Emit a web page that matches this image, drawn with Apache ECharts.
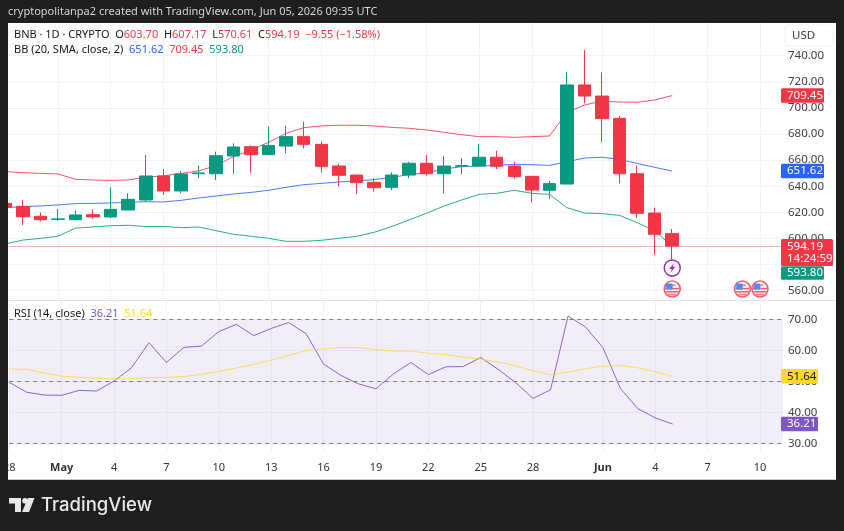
<!DOCTYPE html>
<html>
<head>
<meta charset="utf-8">
<style>html,body{margin:0;padding:0;background:#1e1e1e}#chart{width:844px;height:531px}</style>
<script src="https://cdn.jsdelivr.net/npm/echarts@6/dist/echarts.min.js"></script>
</head>
<body>
<div id="chart"></div>
<script>
// Daily BNB/USD candles with Bollinger Bands and an RSI pane.
const dates = [
  '2026-04-28','2026-04-29','2026-04-30','2026-05-01','2026-05-02','2026-05-03','2026-05-04','2026-05-05',
  '2026-05-06','2026-05-07','2026-05-08','2026-05-09','2026-05-10','2026-05-11','2026-05-12','2026-05-13',
  '2026-05-14','2026-05-15','2026-05-16','2026-05-17','2026-05-18','2026-05-19','2026-05-20','2026-05-21',
  '2026-05-22','2026-05-23','2026-05-24','2026-05-25','2026-05-26','2026-05-27','2026-05-28','2026-05-29',
  '2026-05-30','2026-05-31','2026-06-01','2026-06-02','2026-06-03','2026-06-04','2026-06-05'
];
const opens = [
  626.9,624.6,617.0,614.6,614.4,618.2,616.5,621.8,629.5,647.9,636.4,649.6,649.6,663.2,670.3,664.2,
  670.8,678.0,672.1,655.5,648.6,643.0,639.2,648.6,657.6,649.6,655.3,655.5,662.2,655.5,647.6,636.9,
  641.7,717.6,709.1,692.0,649.6,619.5,603.7
];
const closes = [
  623.9,616.7,614.4,615.0,618.0,616.5,622.3,630.0,647.9,636.4,649.4,650.2,663.4,670.1,664.2,671.3,
  678.0,672.1,655.3,648.4,642.8,638.9,648.6,657.6,649.6,655.5,655.8,662.2,655.3,647.4,637.1,642.0,
  717.6,709.1,691.8,649.6,619.3,603.2,594.19
];
const lows = [
  622.5,610.3,613.1,613.4,613.7,615.2,615.2,621.8,628.2,633.3,634.8,646.1,644.8,649.4,650.4,664.0,
  665.2,669.0,650.4,639.7,633.8,635.9,637.1,646.1,648.1,634.6,649.1,655.5,653.2,645.8,627.7,630.5,
  641.7,703.5,673.7,642.2,615.9,587.4,570.61
];
const highs = [
  628.5,629.5,620.0,622.6,621.3,622.3,639.2,634.6,663.9,653.2,651.7,655.8,666.5,672.9,671.3,685.6,
  686.4,689.5,674.2,657.0,648.6,646.1,650.7,658.8,664.0,663.2,661.4,672.4,667.3,658.8,647.6,644.0,
  727.5,744.4,727.3,693.8,656.0,623.6,607.17
];
const bbUpper = [
  651.2,650.4,649.9,649.4,645.3,644.8,644.5,644.8,647.1,647.9,649.9,651.7,655.8,662.7,667.8,673.7,
  680.5,684.9,686.2,686.7,686.7,686.2,685.1,684.4,683.1,681.3,679.5,678.0,678.0,677.5,678.0,678.5,
  696.4,702.2,705.3,704.5,704.3,706.1,709.45
];
const bbBasis = [
  623.6,624.4,624.9,625.7,626.7,626.9,627.2,627.7,628.2,628.0,629.2,631.0,632.5,634.1,635.3,636.9,
  639.2,641.2,642.2,643.3,644.0,645.1,646.8,648.9,650.4,653.2,655.0,655.5,656.0,656.8,656.5,656.0,
  658.8,661.6,662.2,660.6,657.5,654.5,651.62
];
const bbLower = [
  595.8,598.8,600.1,601.7,608.0,608.8,609.8,610.1,609.1,609.3,608.3,608.8,606.0,603.2,601.7,600.1,
  597.8,597.8,598.6,600.1,601.6,604.7,609.1,614.2,619.3,624.9,629.5,633.8,634.6,636.9,634.6,633.8,
  623.6,619.5,619.0,617.7,612.1,606.0,593.80
];
const rsi = [
  49.7,46.5,45.6,45.5,47.1,46.9,50.1,54.4,62.5,56.1,61.0,61.4,66.1,68.4,64.8,67.1,
  69.0,65.4,55.6,51.9,49.2,47.6,52.4,56.1,52.2,54.7,54.8,57.7,53.9,49.6,44.5,47.3,
  71.1,67.6,60.9,47.7,41.2,38.2,36.21
];
const rsiMa = [
  54.0,53.9,52.7,51.7,51.3,51.0,50.8,50.9,51.2,51.3,51.6,52.3,53.2,54.3,55.5,56.9,
  58.4,60.0,60.5,61.0,60.9,60.3,59.8,59.8,59.1,58.7,57.8,57.2,56.2,55.1,53.4,52.2,
  53.0,54.1,54.9,55.1,54.4,53.1,51.64
];
const dateTicks = ['2026-04-28','2026-05-01','2026-05-04','2026-05-07','2026-05-10','2026-05-13','2026-05-16',
  '2026-05-19','2026-05-22','2026-05-25','2026-05-28','2026-06-01','2026-06-04','2026-06-07','2026-06-10'];
const priceTicks = [560,580,600,620,640,660,680,700,720,740];
const priceLabels = [560,600,620,640,660,680,700,720,740];
const rsiTicks = [30,40,50,60,70];
const rsiLevels = [70,50,30];
const flagEvents = ['2026-06-05','2026-06-09','2026-06-10'];
const boltEvents = ['2026-06-05'];
const flagLevel = 561.3, boltLevel = 577.4;

const UP = '#089981', DOWN = '#f23645', BLUE = '#2962ff', PURPLE = '#7e57c2', YELLOW = '#fdd835';
const FONT = '"Noto Sans", "Open Sans", sans-serif';
const GRID_LINE = '#f2f3f6', PANEL_LINE = '#e0e3eb', TEXT = '#131722';

const day = s => { const [y, m, d] = s.split('-').map(Number); return Date.UTC(y, m - 1, d); };
const HOUR = 3600e3;
const xMin = day('2026-04-28');
const xMax = day('2026-06-11') + 7.5 * HOUR;
const MONTHS = ['Jan','Feb','Mar','Apr','May','Jun','Jul','Aug','Sep','Oct','Nov','Dec'];
const tickStamps = dateTicks.map(day);

function tickText(v) {
  const d = new Date(v);
  return d.getUTCDate() === 1 ? '{m|' + MONTHS[d.getUTCMonth()] + '}' : String(d.getUTCDate());
}
const pairs = arr => arr.map((v, i) => [day(dates[i]), v]);
const bandWidth = bbUpper.map((v, i) => v - bbLower[i]);

function xAxisFor(gridIndex, showLabels) {
  return {
    type: 'value', gridIndex, min: xMin, max: xMax,
    axisLine: { show: false },
    axisTick: { show: false, customValues: tickStamps },
    splitLine: { show: true, lineStyle: { color: GRID_LINE, width: 1 } },
    axisLabel: {
      show: showLabels, customValues: tickStamps, formatter: tickText, margin: 10,
      color: '#333', fontSize: 11, fontFamily: FONT, hideOverlap: false, showMinLabel: true,
      rich: { m: { fontWeight: 'bold', color: '#333', fontSize: 11, fontFamily: FONT } }
    }
  };
}
function yAxisFor(gridIndex, min, max, ticks, labels) {
  return {
    type: 'value', gridIndex, position: 'right', min, max,
    axisLine: { show: false },
    axisTick: { show: false, customValues: ticks },
    splitLine: { show: true, lineStyle: { color: GRID_LINE, width: 1 } },
    axisLabel: {
      customValues: labels, margin: 5, color: '#3a3e4a', fontSize: 11.5, fontFamily: FONT,
      showMinLabel: true, showMaxLabel: true, formatter: v => v.toFixed(2)
    }
  };
}

// Economic-calendar marker: red ring around a small stars-and-stripes badge.
function renderFlag(params, api) {
  const p = api.coord([api.value(0), api.value(1)]);
  const x = p[0], y = p[1];
  const stripe = (dy, w, c) => ({ type: 'rect', shape: { x: x - w / 2, y: y + dy, width: w, height: 1.6 }, style: { fill: c } });
  return { type: 'group', children: [
    { type: 'circle', shape: { cx: x, cy: y, r: 8 }, style: { fill: '#fff', stroke: '#f0606e', lineWidth: 1.6 } },
    stripe(-4.5, 7, '#f4818c'), stripe(-1.2, 14, '#f4606e'), stripe(2, 13, '#f4606e'), stripe(4.6, 8, '#f4818c'),
    { type: 'rect', shape: { x: x - 6.2, y: y - 5.6, width: 6.6, height: 6.4, r: 1 }, style: { fill: '#4f8df5' } }
  ] };
}
// News marker: purple ring with a lightning bolt.
function renderBolt(params, api) {
  const p = api.coord([api.value(0), api.value(1)]);
  const x = p[0], y = p[1];
  return { type: 'group', children: [
    { type: 'circle', shape: { cx: x, cy: y, r: 8 }, style: { fill: '#fff', stroke: '#9c27b0', lineWidth: 1.4 } },
    { type: 'polygon', shape: { points: [[x + 1.8, y - 5], [x - 3, y + 1], [x - 0.4, y + 1], [x - 1.8, y + 5], [x + 3, y - 1.2], [x + 0.4, y - 1.2]] }, style: { fill: '#9c27b0' } }
  ] };
}

const chart = echarts.init(document.getElementById('chart'), null, { renderer: 'canvas' });

const headText = '{k|BNB · 1D · CRYPTO}  {k|O}{d|603.70}  {k|H}{d|607.17}  {k|L}{d|570.61}  {k|C}{d|594.19}  {d|−9.55 (−1.58%)}';
const bbText = '{k|BB (20, SMA, close, 2)}  {b|651.62}  {d|709.45}  {u|593.80}';
const rsiText = '{k|RSI (14, close)}  {p|36.21}  {y|51.64}';
const richStyle = {
  k: { fill: TEXT, fontSize: 11, fontFamily: FONT }, d: { fill: DOWN, fontSize: 11, fontFamily: FONT },
  b: { fill: BLUE, fontSize: 11, fontFamily: FONT }, u: { fill: UP, fontSize: 11, fontFamily: FONT },
  p: { fill: PURPLE, fontSize: 11, fontFamily: FONT }, y: { fill: YELLOW, fontSize: 11, fontFamily: FONT }
};
const legendLine = (x, y, text) => ({
  type: 'text', x, y, z: 8, silent: true,
  style: { text, rich: richStyle, verticalAlign: 'middle', font: '11px ' + FONT }
});

chart.setOption({
  animation: false,
  backgroundColor: '#1e1e1e',
  grid: [
    { left: 5.4, width: 777.6, top: 23, height: 277 },
    { left: 5.4, width: 777.6, top: 301, height: 151 }
  ],
  xAxis: [xAxisFor(0, false), xAxisFor(1, true)],
  yAxis: [
    yAxisFor(0, 552.88, 765.05, priceTicks, priceLabels),
    yAxisFor(1, 27.19, 75.97, rsiTicks, rsiTicks)
  ],
  series: [
    { name: 'bbBase', type: 'line', stack: 'bb', data: pairs(bbLower), symbol: 'none', lineStyle: { opacity: 0 }, z: 1 },
    { name: 'bbFill', type: 'line', stack: 'bb', data: pairs(bandWidth), symbol: 'none', lineStyle: { opacity: 0 },
      areaStyle: { color: '#f0f7fe', opacity: 1 }, z: 1 },
    { name: 'Upper', type: 'line', data: pairs(bbUpper), symbol: 'none', lineStyle: { color: DOWN, width: 1, opacity: 0.85 }, z: 2 },
    { name: 'Basis', type: 'line', data: pairs(bbBasis), symbol: 'none', lineStyle: { color: BLUE, width: 1, opacity: 0.85 }, z: 2 },
    { name: 'Lower', type: 'line', data: pairs(bbLower), symbol: 'none', lineStyle: { color: UP, width: 1, opacity: 0.85 }, z: 2 },
    {
      name: 'BNB', type: 'candlestick', barWidth: 13, z: 3,
      encode: { x: 0, y: [1, 2, 3, 4] },
      data: dates.map((d, i) => [day(d), opens[i], closes[i], lows[i], highs[i]]),
      itemStyle: { color: UP, color0: DOWN, borderColor: UP, borderColor0: DOWN, borderWidth: 1 },
      markLine: {
        silent: true, symbol: 'none', animation: false, label: { show: false },
        lineStyle: { color: DOWN, type: 'dotted', width: 1, opacity: 0.8 },
        data: [{ yAxis: closes[closes.length - 1] }]
      }
    },
    { name: 'Events', type: 'custom', renderItem: renderFlag, z: 4, clip: false,
      data: flagEvents.map(d => [day(d), flagLevel]), encode: { x: 0, y: 1 } },
    { name: 'News', type: 'custom', renderItem: renderBolt, z: 4, clip: false,
      data: boltEvents.map(d => [day(d), boltLevel]), encode: { x: 0, y: 1 } },
    {
      name: 'RSI', type: 'line', xAxisIndex: 1, yAxisIndex: 1, data: pairs(rsi), symbol: 'none', z: 3,
      lineStyle: { color: PURPLE, width: 1, opacity: 0.9 },
      markArea: {
        silent: true, itemStyle: { color: 'rgba(126,87,194,0.1)' },
        data: [[{ yAxis: rsiLevels[0] }, { yAxis: rsiLevels[2] }]]
      },
      markLine: {
        silent: true, symbol: 'none', animation: false, label: { show: false },
        lineStyle: { color: '#787b86', type: [4, 4], width: 1 },
        data: rsiLevels.map(v => ({ yAxis: v }))
      }
    },
    { name: 'RSI MA', type: 'line', xAxisIndex: 1, yAxisIndex: 1, data: pairs(rsiMa), symbol: 'none', z: 3,
      lineStyle: { color: YELLOW, width: 1, opacity: 0.8 } }
  ]
});

// Value tags on the price scale follow the axes; the ones that would collide are nudged.
function tag(yPos, w, text, fill, textFill, h) {
  const height = h || 14.5;
  return { type: 'group', z: 8, silent: true, children: [
    { type: 'rect', z: 8, shape: { x: 781, y: yPos - height / 2, width: w, height, r: 1.5 }, style: { fill } },
    { type: 'text', z: 9, x: 787, y: yPos, style: { text, fill: textFill, font: '11.5px ' + FONT, verticalAlign: 'middle' } }
  ] };
}
const yP = v => chart.convertToPixel({ yAxisIndex: 0 }, v);
const yR = v => chart.convertToPixel({ yAxisIndex: 1 }, v);
const lastClose = closes[closes.length - 1];
const lastLower = bbLower[bbLower.length - 1];

chart.setOption({
  graphic: { elements: [
    // page frame and white chart panel
    { type: 'rect', z: -1, silent: true, shape: { x: 8, y: 23, width: 828, height: 456 }, style: { fill: '#ffffff' } },
    { type: 'rect', z: 7, silent: true, shape: { x: 0, y: 0, width: 8, height: 531 }, style: { fill: '#1e1e1e' } },
    { type: 'line', z: 2, silent: true, shape: { x1: 8, y1: 300.5, x2: 836, y2: 300.5 }, style: { stroke: PANEL_LINE, lineWidth: 1 } },
    { type: 'line', z: 7, silent: true, shape: { x1: 8, y1: 479.5, x2: 836, y2: 479.5 }, style: { stroke: '#c8cad0', lineWidth: 1 } },
    // header and legends
    { type: 'text', z: 8, x: 8, y: 12, silent: true, style: {
      text: 'cryptopolitanpa2 created with TradingView.com, Jun 05, 2026 09:35 UTC',
      fill: '#d6d6d6', font: '11px ' + FONT, verticalAlign: 'middle' } },
    legendLine(14, 35, headText),
    legendLine(14, 50, bbText),
    legendLine(14, 314, rsiText),
    // currency button
    { type: 'rect', z: 6, silent: true, shape: { x: 785, y: 25, width: 48, height: 21, r: 3 }, style: { fill: '#fff', stroke: '#f0f1f4', lineWidth: 1 } },
    { type: 'text', z: 8, x: 792, y: 36, silent: true, style: { text: 'USD', fill: '#3a3e4a', font: '11.5px ' + FONT, verticalAlign: 'middle' } },
    // scale tags
    tag(yP(bbUpper[bbUpper.length - 1]), 43, '709.45', DOWN, '#fff'),
    tag(yP(bbBasis[bbBasis.length - 1]), 43, '651.62', BLUE, '#fff'),
    tag(yP(lastClose) + 6.5, 52, '594.19\n14:24:59', DOWN, '#fff', 27),
    tag(yP(lastLower) + 26.5, 43, '593.80', UP, '#fff', 13.5),
    tag(yR(rsiMa[rsiMa.length - 1]), 37, '51.64', YELLOW, '#131722'),
    tag(yR(rsi[rsi.length - 1]), 37, '36.21', PURPLE, '#fff'),
    // TradingView wordmark
    { type: 'group', z: 8, silent: true, children: [
      { type: 'polygon', z: 8, shape: { points: [[9, 498], [21, 498], [21, 512], [15, 512], [15, 503.5], [9, 503.5]] }, style: { fill: '#e8e8e8' } },
      { type: 'circle', z: 8, shape: { cx: 25, cy: 500.8, r: 2.8 }, style: { fill: '#e8e8e8' } },
      { type: 'polygon', z: 8, shape: { points: [[28, 498], [34.5, 498], [29, 512], [22, 512]] }, style: { fill: '#e8e8e8' } },
      { type: 'text', z: 8, x: 41, y: 505, style: { text: 'TradingView', fill: '#e8e8e8', font: '500 18.5px Inter, ' + FONT, verticalAlign: 'middle' } }
    ] }
  ] }
});
</script>
</body>
</html>
